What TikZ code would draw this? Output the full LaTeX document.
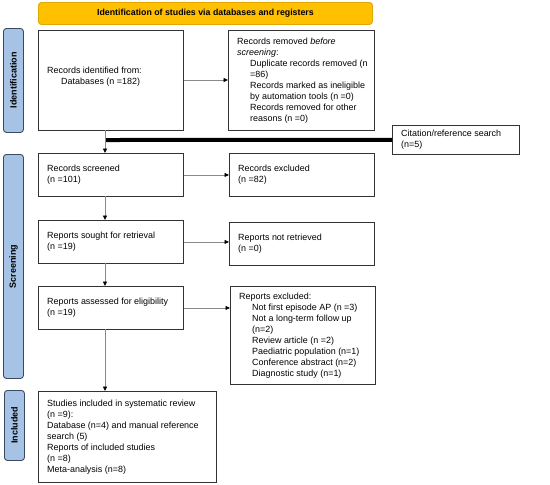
\documentclass[tikz,border=0pt]{standalone}
\usepackage{fontspec}
\setmainfont{Liberation Sans}
\usetikzlibrary{arrows.meta}
\definecolor{bannerfill}{HTML}{FFC000}
\definecolor{bannerline}{HTML}{E0A800}
\definecolor{sidefill}{HTML}{A6C3E6}
\definecolor{sideline}{HTML}{3A4A60}
\definecolor{conn}{HTML}{8A8A8A}
\begin{document}
\begin{tikzpicture}[x=1pt,y=-1pt,
  box/.style={draw=black!80, line width=0.9pt, fill=white, anchor=north west, inner sep=0pt},
  txt/.style={anchor=west, xshift=9pt, inner sep=0pt, align=left,
    font=\fontsize{8.95}{11}\selectfont},
  side/.style={draw=sideline, line width=0.9pt, fill=sidefill, rounded corners=3pt,
    anchor=north west, inner sep=0pt},
  sidetext/.style={rotate=90, font=\bfseries\fontsize{9}{10}\selectfont},
  arr/.style={draw=conn, line width=0.8pt, -{Triangle[length=4.5pt,width=4pt,color=black]}},
]
\useasboundingbox (0,0) rectangle (550,485);
% banner
\node[draw=bannerline, line width=0.9pt, fill=bannerfill, rounded corners=3pt,
  anchor=north west, minimum width=334pt, minimum height=22pt, inner sep=0pt,
  font=\bfseries\fontsize{8.8}{10}\selectfont] (banner) at (38,2)
  {Identification of studies via databases and registers};
% side labels
\node[side, minimum width=20pt, minimum height=104pt] (sid) at (3,28) {};
\node[sidetext] (sidt) at (sid.center) {Identification};
\node[side, minimum width=20pt, minimum height=224pt] (sscr) at (3,154) {};
\node[sidetext] (sscrt) at (sscr.center) {Screening};
\node[side, minimum width=20pt, minimum height=70pt] (sinc) at (4,390) {};
\node[sidetext] (sinct) at (sinc.center) {Included};
% boxes
\node[box, minimum width=145pt, minimum height=100pt] (ident) at (38,30) {};
\node[txt, yshift=4pt] (identt) at (ident.west)
  {Records identified from:\\\hspace*{14pt}Databases (n =182)};
\node[box, minimum width=146pt, minimum height=100pt] (removed) at (228,30) {};
\node[txt] (removedt) at (removed.west)
  {Records removed \textit{before}\\\textit{screening}:\\
   \hspace*{13pt}Duplicate records removed (n\\
   \hspace*{13pt}=86)\\
   \hspace*{13pt}Records marked as ineligible\\
   \hspace*{13pt}by automation tools (n =0)\\
   \hspace*{13pt}Records removed for other\\
   \hspace*{13pt}reasons (n =0)};
\node[box, minimum width=127pt, minimum height=29pt] (cit) at (392,125) {};
\node[txt] (citt) at (cit.west) {Citation/reference search\\(n=5)};
\node[box, minimum width=145pt, minimum height=43pt] (screened) at (38,153) {};
\node[txt] (screenedt) at (screened.west) {Records screened\\(n =101)};
\node[box, minimum width=145pt, minimum height=43pt] (excl) at (229,153) {};
\node[txt] (exclt) at (excl.west) {Records excluded\\(n =82)};
\node[box, minimum width=145pt, minimum height=43pt] (sought) at (38,220) {};
\node[txt] (soughtt) at (sought.west) {Reports sought for retrieval\\(n =19)};
\node[box, minimum width=145pt, minimum height=43pt] (notret) at (229,222) {};
\node[txt] (notrett) at (notret.west) {Reports not retrieved\\(n =0)};
\node[box, minimum width=145pt, minimum height=43pt] (assess) at (38,286) {};
\node[txt] (assesst) at (assess.west) {Reports assessed for eligibility\\(n =19)};
\node[box, minimum width=145pt, minimum height=98pt] (repexcl) at (230,286) {};
\node[txt] (repexclt) at (repexcl.west)
  {Reports excluded:\\
   \hspace*{13pt}Not first episode AP (n =3)\\
   \hspace*{13pt}Not a long-term follow up\\
   \hspace*{13pt}(n=2)\\
   \hspace*{13pt}Review article (n =2)\\
   \hspace*{13pt}Paediatric population (n=1)\\
   \hspace*{13pt}Conference abstract (n=2)\\
   \hspace*{13pt}Diagnostic study (n=1)};
\node[box, minimum width=178pt, minimum height=91pt] (incl) at (38,391) {};
\node[txt] (inclt) at (incl.west)
  {Studies included in systematic review\\(n =9):\\
   Database (n=4) and manual reference\\search (5)\\
   Reports of included studies\\(n =8)\\
   Meta-analysis (n=8)};
% connectors
\coordinate (j) at (105,140);
\draw[arr] (ident.east |- 0,80) -- (removed.west |- 0,80);
\draw[line width=4pt, black] (cit.west) -- (j);
\draw[arr] (105,130) -- (105,153);
\draw[arr] (screened.east) -- (excl.west |- screened.east);
\draw[arr] (105,196) -- (105,220);
\draw[arr] (sought.east) -- (notret.west |- sought.east);
\draw[arr] (105,263) -- (105,286);
\draw[arr] (assess.east) -- (repexcl.west |- assess.east);
\draw[arr] (105,329) -- (105,391);
\end{tikzpicture}
\end{document}
